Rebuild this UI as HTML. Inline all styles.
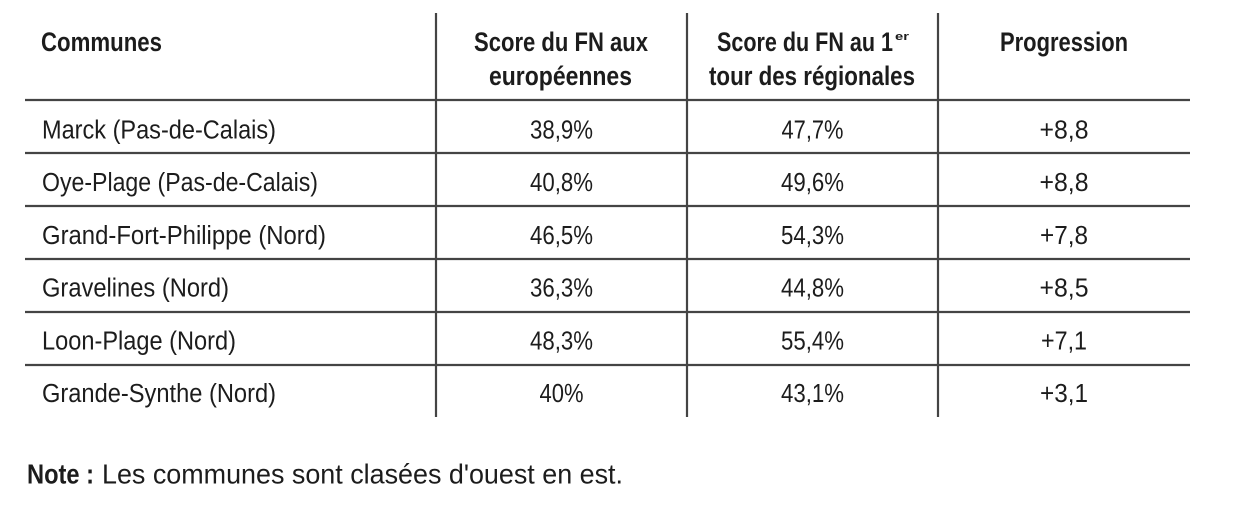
<!DOCTYPE html>
<html>
<head>
<meta charset="utf-8">
<style>
  html,body{margin:0;padding:0;background:#ffffff;}
  svg{display:block;}
  text{font-family:"Liberation Sans",sans-serif;fill:#1c1c1c;}
  .h{font-weight:bold;font-size:26.5px;}
  .d{font-size:25.5px;}
</style>
</head>
<body>
<svg width="1233" height="519" viewBox="0 0 1233 519" xmlns="http://www.w3.org/2000/svg">
  <g stroke="#444" stroke-width="2.2">
    <line x1="25" y1="100" x2="1190" y2="100"/>
    <line x1="25" y1="153" x2="1190" y2="153"/>
    <line x1="25" y1="206" x2="1190" y2="206"/>
    <line x1="25" y1="259" x2="1190" y2="259"/>
    <line x1="25" y1="312" x2="1190" y2="312"/>
    <line x1="25" y1="365" x2="1190" y2="365"/>
    <line x1="436" y1="13" x2="436" y2="417"/>
    <line x1="687" y1="13" x2="687" y2="417"/>
    <line x1="938" y1="13" x2="938" y2="417"/>
  </g>

  <!-- header -->
  <text class="h" x="41" y="51" textLength="121" lengthAdjust="spacingAndGlyphs">Communes</text>
  <text class="h" x="474" y="51" textLength="174" lengthAdjust="spacingAndGlyphs">Score du FN aux</text>
  <text class="h" x="489" y="85" textLength="143" lengthAdjust="spacingAndGlyphs">européennes</text>
  <text class="h" x="717" y="51" textLength="176" lengthAdjust="spacingAndGlyphs">Score du FN au 1</text>
  <text class="h" x="895" y="40" style="font-size:11px" textLength="14" lengthAdjust="spacingAndGlyphs">er</text>
  <text class="h" x="709" y="85" textLength="206" lengthAdjust="spacingAndGlyphs">tour des régionales</text>
  <text class="h" x="1000" y="51" textLength="128" lengthAdjust="spacingAndGlyphs">Progression</text>

  <!-- rows -->
  <text class="d" x="42" y="138.5" textLength="234" lengthAdjust="spacingAndGlyphs">Marck (Pas-de-Calais)</text>
  <text class="d" x="42" y="191.2" textLength="276" lengthAdjust="spacingAndGlyphs">Oye-Plage (Pas-de-Calais)</text>
  <text class="d" x="42" y="243.9" textLength="284" lengthAdjust="spacingAndGlyphs">Grand-Fort-Philippe (Nord)</text>
  <text class="d" x="42" y="296.6" textLength="187" lengthAdjust="spacingAndGlyphs">Gravelines (Nord)</text>
  <text class="d" x="42" y="349.3" textLength="194" lengthAdjust="spacingAndGlyphs">Loon-Plage (Nord)</text>
  <text class="d" x="42" y="402" textLength="234" lengthAdjust="spacingAndGlyphs">Grande-Synthe (Nord)</text>

  <g text-anchor="middle">
    <text class="d" x="561.5" y="138.5" textLength="63" lengthAdjust="spacingAndGlyphs">38,9%</text>
    <text class="d" x="561.5" y="191.2" textLength="63" lengthAdjust="spacingAndGlyphs">40,8%</text>
    <text class="d" x="561.5" y="243.9" textLength="63" lengthAdjust="spacingAndGlyphs">46,5%</text>
    <text class="d" x="561.5" y="296.6" textLength="63" lengthAdjust="spacingAndGlyphs">36,3%</text>
    <text class="d" x="561.5" y="349.3" textLength="63" lengthAdjust="spacingAndGlyphs">48,3%</text>
    <text class="d" x="561.5" y="402" textLength="44" lengthAdjust="spacingAndGlyphs">40%</text>

    <text class="d" x="812.5" y="138.5" textLength="62" lengthAdjust="spacingAndGlyphs">47,7%</text>
    <text class="d" x="812.5" y="191.2" textLength="63" lengthAdjust="spacingAndGlyphs">49,6%</text>
    <text class="d" x="812.5" y="243.9" textLength="63" lengthAdjust="spacingAndGlyphs">54,3%</text>
    <text class="d" x="812.5" y="296.6" textLength="63" lengthAdjust="spacingAndGlyphs">44,8%</text>
    <text class="d" x="812.5" y="349.3" textLength="63" lengthAdjust="spacingAndGlyphs">55,4%</text>
    <text class="d" x="812.5" y="402" textLength="63" lengthAdjust="spacingAndGlyphs">43,1%</text>

    <text class="d" x="1064" y="138.5" textLength="49" lengthAdjust="spacingAndGlyphs">+8,8</text>
    <text class="d" x="1064" y="191.2" textLength="49" lengthAdjust="spacingAndGlyphs">+8,8</text>
    <text class="d" x="1064" y="243.9" textLength="48" lengthAdjust="spacingAndGlyphs">+7,8</text>
    <text class="d" x="1064" y="296.6" textLength="49" lengthAdjust="spacingAndGlyphs">+8,5</text>
    <text class="d" x="1064" y="349.3" textLength="46" lengthAdjust="spacingAndGlyphs">+7,1</text>
    <text class="d" x="1064" y="402" textLength="48" lengthAdjust="spacingAndGlyphs">+3,1</text>
  </g>

  <!-- note -->
  <text x="27" y="483.5" style="font-size:28px;font-weight:bold" textLength="67" lengthAdjust="spacingAndGlyphs">Note :</text>
  <text x="102" y="483.5" style="font-size:28px" textLength="521" lengthAdjust="spacingAndGlyphs">Les communes sont clasées d'ouest en est.</text>
</svg>
</body>
</html>
